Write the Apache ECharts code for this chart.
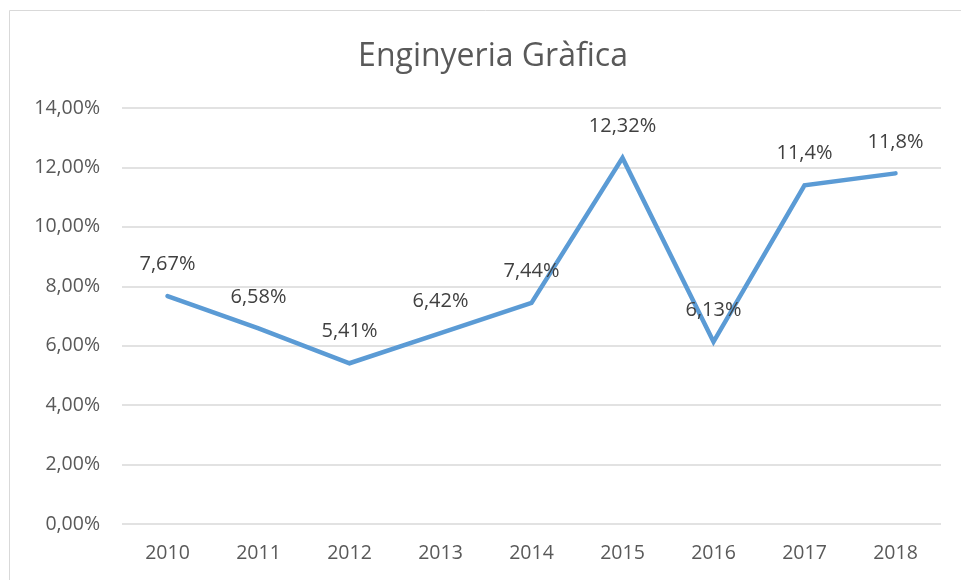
<html>
<head>
<meta charset="utf-8">
<script src="https://cdn.jsdelivr.net/npm/echarts@6/dist/echarts.min.js"></script>
</head>
<body style="margin:0">
<style>
    html, body, #main { width: 961px; height: 580px; background: #fff; }
</style>
<div id="main"></div>
<script>
var years = ['2010', '2011', '2012', '2013', '2014', '2015', '2016', '2017', '2018'];
var rates = [7.67, 6.58, 5.41, 6.42, 7.44, 12.32, 6.13, 11.4, 11.8];

var chart = echarts.init(document.getElementById('main'));
var font = 'Open Sans';

chart.setOption({
    animation: false,
    title: {
        text: 'Enginyeria Gràfica',
        left: 488,
        top: 36,
        textAlign: 'center',
        textStyle: { fontFamily: font, fontSize: 32, fontWeight: 'normal', color: '#595959' }
    },
    graphic: [{
        type: 'rect',
        shape: { x: 9.5, y: 10.5, width: 970, height: 600 },
        style: { fill: 'none', stroke: '#d9d9d9', lineWidth: 1 }
    }],
    grid: { left: 122, right: 20, top: 108, bottom: 56 },
    xAxis: {
        type: 'category',
        data: years,
        axisLine: { show: false },
        axisTick: { show: false },
        axisLabel: { fontFamily: font, fontSize: 19.5, color: '#595959', margin: 19 }
    },
    yAxis: {
        type: 'value',
        min: 0,
        max: 14,
        interval: 2,
        axisLabel: {
            fontFamily: font, fontSize: 19.5, color: '#595959', margin: 22,
            formatter: function (v) { return v.toFixed(2).replace('.', ',') + '%'; }
        },
        splitLine: { lineStyle: { color: '#d9d9d9', width: 1.5 } }
    },
    series: [{
        type: 'line',
        data: rates,
        showSymbol: true,
        symbol: 'circle',
        symbolSize: 1,
        itemStyle: { color: '#5b9bd5' },
        lineStyle: { color: '#5b9bd5', width: 4.5, cap: 'round', join: 'miter' },
        label: {
            show: true,
            position: 'top',
            distance: 21,
            fontFamily: font, fontSize: 20, color: '#404040',
            formatter: function (p) { return String(p.value).replace('.', ',') + '%'; }
        }
    }]
});
</script>
</body>
</html>
